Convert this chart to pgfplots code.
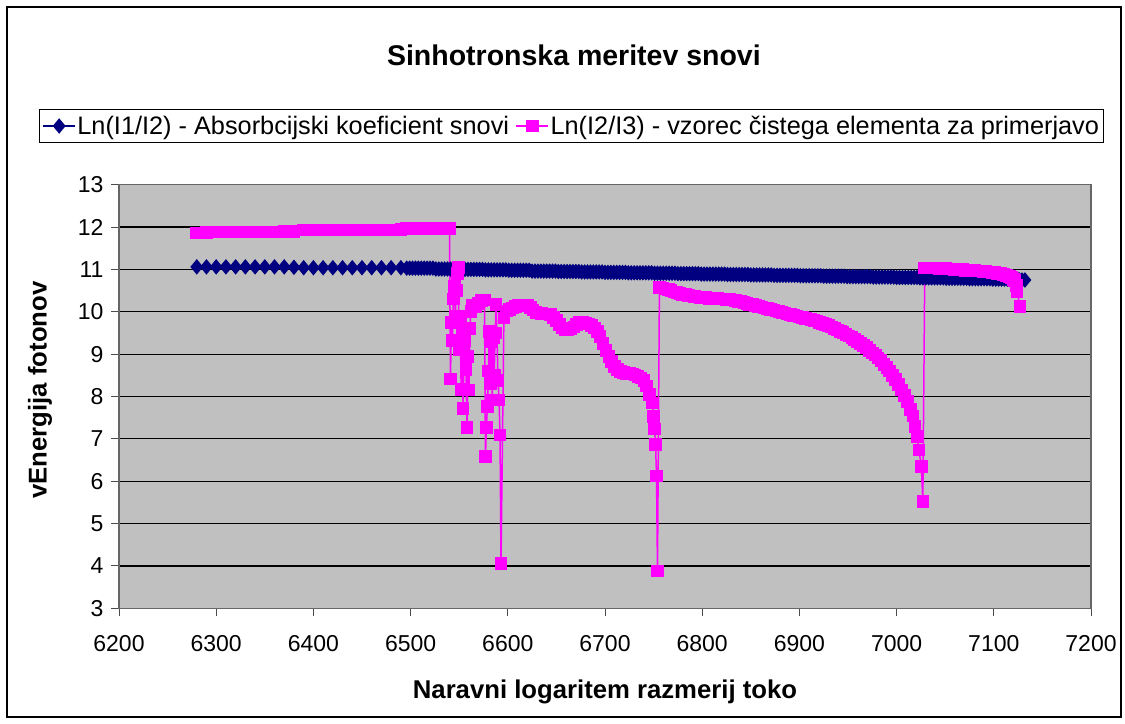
\documentclass[border=0pt]{standalone}
\usepackage{pgfplots}
\pgfplotsset{compat=1.18}
\usepackage{fontspec}
\setmainfont{Liberation Sans}
\definecolor{navyx}{RGB}{0,0,128}
\definecolor{magx}{RGB}{255,0,255}
\definecolor{plotgray}{RGB}{192,192,192}
\begin{document}
\begin{tikzpicture}
\useasboundingbox (0bp,0bp) rectangle (1125bp,724bp);
\draw[line width=2bp] (7bp,7bp) rectangle (1121bp,717bp);
\begin{axis}[
  at={(119bp,115.7bp)}, anchor=south west,
  width=972bp, height=423.6bp, scale only axis,
  xmin=6200, xmax=7200, ymin=3, ymax=13,
  xtick distance=100, ytick distance=1,
  axis background/.style={fill=plotgray},
  axis line style={draw=black!60, line width=1.5bp},
  ymajorgrids, grid style={black, line width=1.2bp},
  tick align=outside, tick pos=left, major tick length=8bp,
  tick style={black!70, line width=1bp},
  /pgf/number format/assume math mode=true,
  /pgf/number format/set thousands separator={},
  ticklabel style={font=\fontsize{23bp}{27bp}\selectfont},
  xticklabel style={yshift=-16bp},
  yticklabel style={xshift=-4bp},
  title={Sinhotronska meritev snovi},
  title style={font=\bfseries\fontsize{28.5bp}{32bp}\selectfont, at={(axis description cs:0.468,1.2661)}, anchor=base},
  xlabel={Naravni logaritem razmerij toko},
  xlabel style={font=\bfseries\fontsize{25.7bp}{30bp}\selectfont, at={(axis description cs:0.5,-0.2118)}, anchor=base},
  ylabel={vEnergija fotonov},
  ylabel style={font=\bfseries\fontsize{25.7bp}{30bp}\selectfont, at={(axis description cs:-0.0813,0.5153)}, anchor=center},
  legend columns=2,
  legend image code/.code={\draw[mark repeat=2,mark phase=2] plot coordinates {(0bp,0bp) (16bp,0bp) (32bp,0bp)};},
  legend style={at={(0.4655,1.1386)}, anchor=center, draw=black, line width=1bp, fill=white,
    font=\fontsize{25.3bp}{29bp}\selectfont, inner xsep=3bp, inner ysep=5bp,
    nodes={inner sep=1.5bp},
    /tikz/every even column/.append style={column sep=5bp}},
]
\addplot[color=navyx, line width=1.5bp, mark=diamond*, mark size=6.6bp, mark options={solid, fill=navyx, xscale=1.1}] coordinates {
(6280,11.06) (6290,11.06) (6300,11.06) (6310,11.06) (6320,11.06) (6330,11.06) (6340,11.06) (6350,11.06)
(6360,11.06) (6370,11.06) (6380,11.05) (6390,11.04) (6400,11.04) (6410,11.04) (6420,11.04) (6430,11.04)
(6440,11.04) (6450,11.04) (6460,11.04) (6470,11.04) (6480,11.04) (6490,11.04)
(6496,11.03) (6499,11.03) (6502,11.03) (6505,11.03) (6508,11.03) (6511,11.03) (6514,11.03) (6517,11.03) (6520,11.03) (6523,11.03)
(6526,11.01) (6529,11.01) (6532,11.01) (6535,11.01) (6538,11.01) (6541,11.01) (6544,11.01) (6547,11.01) (6550,11.01)
(6553,11.00) (6556,11.00) (6559,11.00) (6562,11.00) (6565,11.00) (6568,11.00) (6571,11.00) (6574,11.00)
(6577,10.99) (6580,10.99) (6583,10.99) (6586,10.99) (6589,10.99) (6592,10.99) (6595,10.99) (6598,10.99)
(6601,10.98) (6604,10.98) (6607,10.98) (6610,10.98) (6613,10.98) (6616,10.98) (6619,10.98) (6622,10.98)
(6625,10.96) (6628,10.96) (6631,10.96) (6634,10.96) (6637,10.96) (6640,10.96) (6643,10.96) (6646,10.96) (6649,10.96)
(6652,10.95) (6655,10.95) (6658,10.95) (6661,10.95) (6664,10.95) (6667,10.95) (6670,10.95) (6673,10.95)
(6676,10.94) (6679,10.94) (6682,10.94) (6685,10.94) (6688,10.94) (6691,10.94) (6694,10.94) (6697,10.94)
(6700,10.93) (6703,10.93) (6706,10.93) (6709,10.93) (6712,10.93) (6715,10.93) (6718,10.93) (6721,10.93)
(6724,10.92) (6727,10.92) (6730,10.92) (6733,10.92) (6736,10.92) (6739,10.92) (6742,10.92) (6745,10.92) (6748,10.92)
(6751,10.91) (6754,10.91) (6757,10.91) (6760,10.91) (6763,10.91) (6766,10.91) (6769,10.91) (6772,10.91)
(6775,10.90) (6778,10.90) (6781,10.90) (6784,10.90) (6787,10.90) (6790,10.90) (6793,10.90) (6796,10.90)
(6799,10.89) (6802,10.89) (6805,10.89) (6808,10.89) (6811,10.89) (6814,10.89) (6817,10.89) (6820,10.89) (6823,10.89)
(6826,10.88) (6829,10.88) (6832,10.88) (6835,10.88) (6838,10.88) (6841,10.88) (6844,10.88) (6847,10.88)
(6850,10.87) (6853,10.87) (6856,10.87) (6859,10.87) (6862,10.87) (6865,10.87) (6868,10.87) (6871,10.87)
(6874,10.86) (6877,10.86) (6880,10.86) (6883,10.86) (6886,10.86) (6889,10.86) (6892,10.86) (6895,10.86) (6898,10.86)
(6901,10.85) (6904,10.85) (6907,10.85) (6910,10.85) (6913,10.85) (6916,10.85) (6919,10.85) (6922,10.85)
(6925,10.84) (6928,10.84) (6931,10.84) (6934,10.84) (6937,10.84) (6940,10.84) (6943,10.84) (6946,10.84)
(6949,10.83) (6952,10.83) (6955,10.83) (6958,10.83) (6961,10.83) (6964,10.83) (6967,10.83) (6970,10.83) (6973,10.83)
(6976,10.82) (6979,10.82) (6982,10.82) (6985,10.82) (6988,10.82) (6991,10.82) (6994,10.82) (6997,10.82)
(7000,10.81) (7003,10.81) (7006,10.81) (7009,10.81) (7012,10.81) (7015,10.81) (7018,10.81) (7021,10.81)
(7024,10.80) (7027,10.80) (7030,10.80) (7033,10.80) (7036,10.80) (7039,10.80) (7042,10.80) (7045,10.80) (7048,10.80)
(7051,10.79) (7054,10.79) (7057,10.79) (7060,10.79) (7063,10.79) (7066,10.79) (7069,10.79) (7072,10.79)
(7075,10.78) (7078,10.78) (7081,10.78) (7084,10.78) (7087,10.78) (7090,10.78) (7093,10.78) (7096,10.78)
(7099,10.77) (7102,10.77) (7105,10.77) (7108,10.77) (7111,10.77) (7114,10.77) (7117,10.77) (7120,10.77)
(7123,10.76) (7126,10.76) (7129,10.75) (7132,10.75)
};
\addlegendentry{Ln(I1/I2) - Absorbcijski koeficient snovi}
\addplot[color=magx, line width=1.5bp, mark=square*, mark size=5.6bp, mark options={solid, fill=magx}] coordinates {
(6280,11.86) (6290,11.87) (6300,11.88) (6310,11.88) (6320,11.88) (6330,11.88) (6340,11.88) (6350,11.88)
(6360,11.88) (6370,11.89) (6380,11.90) (6390,11.93) (6400,11.93) (6410,11.93) (6420,11.93) (6430,11.93)
(6440,11.93) (6450,11.93) (6460,11.93) (6470,11.93) (6480,11.93) (6490,11.95)
(6496,11.97) (6499,11.97) (6502,11.97) (6505,11.97) (6508,11.97) (6511,11.97) (6514,11.97) (6517,11.97)
(6520,11.97) (6523,11.97) (6526,11.97) (6529,11.97) (6532,11.97) (6535,11.97) (6538,11.97) (6540,11.97)
(6541,8.41) (6542,9.74) (6543,9.33) (6544,10.3) (6545,10.6) (6546,9.9) (6547,10.5) (6548,10.9)
(6549,11.05) (6550,9.1) (6551,9.9) (6552,8.17) (6553,9.6) (6554,7.72) (6555,9.2) (6556,9.33)
(6557,8.63) (6558,7.27) (6559,8.94) (6560,8.15) (6561,9.6) (6562,10.0) (6564,10.16) (6567,10.12)
(6570,10.2) (6573,10.26) (6576,10.28) (6577,6.58) (6578,7.27) (6579,7.76) (6580,8.6) (6581,9.53)
(6582,8.3) (6583,9.3) (6584,7.92) (6585,9.4) (6586,8.5) (6587,9.5) (6588,10.18) (6590,8.37)
(6591,7.92) (6592,7.09) (6593,4.05)
(6596,9.85) (6599,10.02) (6602,10.05) (6605,10.09) (6608,10.13) (6611,10.15) (6614,10.15) (6617,10.16)
(6620,10.14) (6623,10.10) (6626,10.04) (6629,9.99) (6632,9.97) (6635,9.96) (6638,9.95) (6641,9.95)
(6644,9.93) (6647,9.87) (6650,9.79) (6653,9.70) (6656,9.62) (6659,9.58) (6662,9.57) (6665,9.59)
(6668,9.64) (6671,9.70) (6674,9.74) (6677,9.74) (6680,9.73) (6683,9.71) (6686,9.67) (6689,9.62)
(6692,9.53) (6695,9.41) (6698,9.25) (6701,9.08) (6704,8.94) (6707,8.82) (6710,8.71) (6713,8.63)
(6716,8.59) (6719,8.57) (6722,8.55) (6725,8.54) (6728,8.53) (6731,8.51) (6734,8.48) (6737,8.44)
(6740,8.38) (6743,8.25) (6746,8.05) (6749,7.85) (6750,7.52) (6751,7.23) (6752,6.87) (6753,6.12)
(6754,3.88) (6756,10.58)
(6759,10.56) (6762,10.54) (6765,10.52) (6768,10.50) (6771,10.47) (6774,10.45) (6777,10.43) (6780,10.41)
(6783,10.40) (6786,10.38) (6789,10.37) (6792,10.36) (6795,10.35) (6798,10.34) (6801,10.34) (6804,10.33)
(6807,10.32) (6810,10.32) (6813,10.31) (6816,10.31) (6819,10.30) (6822,10.30) (6825,10.29) (6828,10.29)
(6831,10.28) (6834,10.27) (6837,10.25) (6840,10.24) (6843,10.22) (6846,10.20) (6849,10.18) (6852,10.17)
(6855,10.15) (6858,10.13) (6861,10.11) (6864,10.09) (6867,10.08) (6870,10.06) (6873,10.04) (6876,10.02)
(6879,10.00) (6882,9.99) (6885,9.97) (6888,9.95) (6891,9.93) (6894,9.92) (6897,9.90) (6900,9.88)
(6903,9.86) (6906,9.84) (6909,9.83) (6912,9.81) (6915,9.79) (6918,9.78) (6921,9.75) (6924,9.73)
(6927,9.70) (6930,9.67) (6933,9.64) (6936,9.61) (6939,9.57) (6942,9.54) (6945,9.51) (6948,9.47)
(6951,9.43) (6954,9.39) (6957,9.34) (6960,9.30) (6963,9.25) (6966,9.20) (6969,9.15) (6972,9.09)
(6975,9.03) (6978,8.98) (6981,8.91) (6984,8.85) (6987,8.76) (6990,8.68) (6993,8.60) (6996,8.50)
(6999,8.40) (7002,8.29) (7005,8.15) (7008,8.02) (7011,7.88) (7014,7.70) (7017,7.54) (7019,7.30)
(7021,7.05) (7023,6.74) (7025.5,6.34) (7027,5.52)
(7029,11.03) (7032,11.03) (7035,11.03) (7038,11.03) (7041,11.03) (7044,11.02) (7047,11.02) (7050,11.02)
(7053,11.01) (7056,11.01) (7059,11.00) (7062,11.00) (7065,10.99) (7068,10.99) (7071,10.98) (7074,10.98)
(7077,10.97) (7080,10.97) (7083,10.96) (7086,10.96) (7089,10.95) (7092,10.95) (7095,10.94) (7098,10.93)
(7101,10.92) (7104,10.91) (7107,10.90) (7110,10.88) (7113,10.86) (7116,10.84) (7118,10.81) (7120,10.77)
(7121,10.74) (7123,10.62) (7124,10.47) (7127,10.12)
};
\addlegendentry{Ln(I2/I3) - vzorec čistega elementa za primerjavo}
\end{axis}
\end{tikzpicture}
\end{document}
